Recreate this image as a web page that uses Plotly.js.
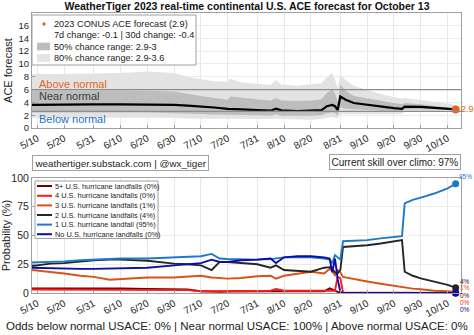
<!DOCTYPE html>
<html><head><meta charset="utf-8">
<script src="https://cdn.plot.ly/plotly-3.0.1.min.js"></script>
<style>html,body{margin:0;padding:0;background:#fff}#chart{width:474px;height:335px}</style>
</head><body><div id="chart"></div>
<script>
// ---------- DATA ----------
const dates = ['2023-05-08','2023-05-20','2023-05-31','2023-06-10','2023-06-20','2023-06-30','2023-07-05','2023-07-10','2023-07-15','2023-07-20','2023-07-21','2023-07-25','2023-07-31','2023-08-05','2023-08-07','2023-08-09','2023-08-15','2023-08-20','2023-08-24','2023-08-26','2023-08-28','2023-08-29','2023-08-30','2023-08-31','2023-09-02','2023-09-05','2023-09-10','2023-09-15','2023-09-20','2023-09-23','2023-09-24','2023-09-30','2023-10-05','2023-10-10','2023-10-13'];
const aceForecast = [3.6,3.7,3.7,3.7,3.7,3.6,3.5,3.4,3.2,3.0,3.0,2.9,2.8,2.7,3.0,2.75,2.65,2.7,2.8,3.4,3.6,3.4,2.8,4.9,4.4,3.9,3.6,3.4,3.1,3.0,3.35,3.3,3.15,3.0,2.9];
const range50Low  = [2.4,2.4,2.4,2.4,2.4,2.3,2.2,2.2,2.1,2.0,2.1,2.0,2.0,1.9,2.1,1.9,1.9,1.9,2.0,2.3,2.4,2.3,2.0,3.2,3.0,2.9,2.8,2.7,2.6,2.6,2.9,2.9,2.9,2.9,2.9];
const range50High = [5.9,5.9,5.9,5.8,5.8,5.7,5.3,5.0,4.7,4.4,4.9,4.7,4.5,4.3,4.7,4.3,4.2,4.3,4.5,5.5,6.0,5.5,4.0,6.8,5.8,5.0,4.6,4.2,3.9,3.7,3.9,3.7,3.5,3.2,3.0];
const range80Low  = [1.6,1.6,1.6,1.6,1.6,1.6,1.5,1.5,1.5,1.4,1.4,1.4,1.4,1.4,1.5,1.4,1.3,1.3,1.4,1.6,1.7,1.6,1.5,2.2,2.1,2.1,2.1,2.2,2.2,2.2,2.5,2.5,2.6,2.8,2.9];
const range80High = [8.4,8.4,8.5,8.6,8.8,8.6,8.0,7.6,7.3,7.2,7.7,7.1,6.9,6.7,7.5,6.8,6.6,6.8,7.0,8.0,8.6,7.6,6.2,8.3,7.5,6.6,5.9,5.3,4.8,4.6,4.7,4.4,4.1,3.8,3.6];
const normalThresholds = [2.6, 6];
const normalLabels = ['Above normal','Near normal','Below normal'];
const normalLabelY = [6.9, 5.0, 1.4];

const probDates = ['2023-05-08','2023-05-15','2023-05-20','2023-05-26','2023-05-31','2023-06-06','2023-06-10','2023-06-20','2023-06-30','2023-07-05','2023-07-10','2023-07-14','2023-07-17','2023-07-20','2023-07-25','2023-07-31','2023-08-05','2023-08-07','2023-08-10','2023-08-15','2023-08-20','2023-08-25','2023-08-27','2023-08-28','2023-08-29','2023-08-30','2023-08-31','2023-09-01','2023-09-05','2023-09-10','2023-09-15','2023-09-20','2023-09-23','2023-09-24','2023-09-27','2023-09-30','2023-10-05','2023-10-10','2023-10-13'];
const landfalls5plus = [4,4,4.5,4,4,4,4,3.5,3.5,3,1.5,1,1,1.2,1.5,1.5,1.5,1.5,1.5,1.2,1.2,1.5,4,3,1.5,1,0.5,0,0,0,0,0,0,0,0,0,0,0,0];
const landfalls4     = [3,3,3,3,3,3,3,3,3,2.5,1.5,1.5,1.5,1.5,1.5,1.5,2,3.5,2,2,2,2,2,2,2,14,13,0.5,0.4,0.3,0.2,0.2,0.1,0.1,0.1,0.1,0,0,0];
const landfalls3     = [20,18.5,17,15,14,11.5,12,13.5,13.5,14,15,13.5,13,12.5,13,14.5,15,12.5,15,17,18.5,17,21,19,15.5,20,18,14,12,10,8,6,5,4.5,3.8,3.2,2,1.5,1];
const landfalls2     = [23.5,25.5,26,27.5,28.5,29,29,28,25.5,25,24,20,27,27,26,25,22,24,20,19,18.5,22,22.5,21,18,17,20,40,40.5,41.5,43,45,46,18.5,15,12.7,10,7,4.6];
const landfalls1     = [26.5,27,27.5,28.5,29,30,30,30,31,31.5,32,34,30,29.5,29,29,29.5,30,31,31,31,30,29,26,33,31,29,45,45.5,46,47.5,48.5,49.5,78,81,83,86.5,91,95];
const landfalls0     = [22,21.5,21,21,21,21.5,21.5,22,24,25,26,29,27,27,28.5,29,30,26,31,32,32,31,30,18,30,12,1,0,0,0,0,0,0,0,0,0,0,0,0];
const seriesNames = ['5+ U.S. hurricane landfalls (0%)','4 U.S. hurricane landfalls (0%)','3 U.S. hurricane landfalls (1%)','2 U.S. hurricane landfalls (4%)','1 U.S. hurricane landfall (95%)','No U.S. hurricane landfalls (0%)'];
const seriesEndLabels = ['0%','0%','1%','4%','95%','0%'];
const topLegendLabels = ['2023 CONUS ACE forecast (2.9)','7d change: -0.1 | 30d change: -0.4','50% chance range: 2.9-3','80% chance range: 2.9-3.6'];
const tickDates = ['2023-05-10','2023-05-20','2023-05-31','2023-06-10','2023-06-20','2023-06-30','2023-07-10','2023-07-20','2023-07-31','2023-08-10','2023-08-20','2023-08-31','2023-09-10','2023-09-20','2023-09-30','2023-10-10'];
const tickLabels = ['5/10','5/20','5/31','6/10','6/20','6/30','7/10','7/20','7/31','8/10','8/20','8/31','9/10','9/20','9/30','10/10'];
const titleText = 'WeatherTiger 2023 real-time continental U.S. ACE forecast for October 13';
const creditText = 'weathertiger.substack.com | @wx_tiger';
const skillText = 'Current skill over climo: 97%';
const oddsText = 'Odds below normal USACE: 0% | Near normal USACE: 100% | Above normal USACE: 0%';

// ---------- STYLE ----------
const FONT = 'Liberation Sans, Arial, Helvetica, sans-serif';
const seriesData = [landfalls5plus, landfalls4, landfalls3, landfalls2, landfalls1, landfalls0];
const seriesColors = ['#6e0000','#ff1a1a','#d95319','#262626','#1f78c8','#0c0ca8'];
const ORANGE = '#e8641b', BLUE = '#1a73c4';
const LIGHT = '#e3e3e3', DARK = '#bdbdbd';
const W = 474, H = 335, L = 32, R = 461, T = 13, B = 293;
const px = p => (p - L) / (R - L);
const py = p => (B - p) / (B - T);
const xRange = ['2023-05-08', '2023-10-15'];
const last = a => a[a.length - 1];

const traces = [];
const rev = a => a.slice().reverse();
traces.push({x: dates.concat(rev(dates)), y: range80High.concat(rev(range80Low)), fill: 'toself', fillcolor: LIGHT, line: {width: 0}, mode: 'lines', xaxis: 'x', yaxis: 'y', hoverinfo: 'skip'});
traces.push({x: dates.concat(rev(dates)), y: range50High.concat(rev(range50Low)), fill: 'toself', fillcolor: DARK, line: {width: 0}, mode: 'lines', xaxis: 'x', yaxis: 'y', hoverinfo: 'skip'});
traces.push({x: dates, y: aceForecast, mode: 'lines', line: {color: '#000', width: 2.2}, xaxis: 'x', yaxis: 'y'});
traces.push({x: [last(dates)], y: [last(aceForecast)], mode: 'markers', marker: {color: ORANGE, size: 8}, xaxis: 'x', yaxis: 'y'});

seriesData.forEach((s, i) => {
  traces.push({x: probDates, y: s, mode: 'lines', line: {color: seriesColors[i], width: 1.9}, xaxis: 'x2', yaxis: 'y2', name: seriesNames[i]});
});
seriesData.forEach((s, i) => {
  traces.push({x: [last(probDates)], y: [last(s)], mode: 'markers', marker: {color: seriesColors[i], size: 7}, xaxis: 'x2', yaxis: 'y2', cliponaxis: false});
});

const shapes = [];
const annotations = [];
normalThresholds.forEach(v => shapes.push({type: 'line', xref: 'paper', x0: 0, x1: 1, yref: 'y', y0: v, y1: v, line: {color: '#8c8c8c', width: 1.3}, layer: 'above'}));
const normalColors = [ORANGE, '#404040', BLUE];
normalLabels.forEach((t, i) => annotations.push({text: t, xref: 'paper', x: px(37), xanchor: 'left', yref: 'y', y: normalLabelY[i], yanchor: 'middle', showarrow: false, font: {family: FONT, size: 11, color: normalColors[i]}}));
annotations.push({text: '2.9', xref: 'x', x: last(dates), yref: 'y', y: last(aceForecast), xanchor: 'left', xshift: 3.5, yanchor: 'middle', showarrow: false, font: {family: FONT, size: 9, color: ORANGE}});
// end labels: small vertical offsets so the stacked labels near 0% stay readable
const endShift = [-2, -9, 4.3, 6.7, 7, -16];
seriesEndLabels.forEach((t, i) => annotations.push({text: t, xref: 'x2', x: last(probDates), yref: 'y2', y: last(seriesData[i]), xanchor: 'left', xshift: i === 4 ? 1 : 2.5, yshift: endShift[i], yanchor: 'middle', showarrow: false, font: {family: FONT, size: 6.5, color: seriesColors[i]}}));

// top legend (manual)
shapes.push({type: 'rect', xref: 'paper', yref: 'paper', x0: px(32), x1: px(196), y0: py(65), y1: py(15), fillcolor: '#fff', line: {color: '#a0a0a0', width: 1}, layer: 'above'});
const topRows = [24, 35, 46.5, 58];
shapes.push({type: 'circle', xref: 'paper', yref: 'paper', x0: px(42.3), x1: px(45.7), y0: py(topRows[0] + 1.7), y1: py(topRows[0] - 1.7), fillcolor: ORANGE, line: {width: 0}, layer: 'above'});
shapes.push({type: 'rect', xref: 'paper', yref: 'paper', x0: px(37), x1: px(50), y0: py(topRows[2] + 3.8), y1: py(topRows[2] - 3.8), fillcolor: DARK, line: {width: 0}, layer: 'above'});
shapes.push({type: 'rect', xref: 'paper', yref: 'paper', x0: px(37), x1: px(50), y0: py(topRows[3] + 3.8), y1: py(topRows[3] - 3.8), fillcolor: LIGHT, line: {width: 0}, layer: 'above'});
topLegendLabels.forEach((t, i) => annotations.push({text: t, xref: 'paper', x: px(52), xanchor: 'left', yref: 'paper', y: py(topRows[i]), yanchor: 'middle', showarrow: false, font: {family: FONT, size: 9.2, color: '#222'}}));

// bottom legend (manual)
shapes.push({type: 'rect', xref: 'paper', yref: 'paper', x0: px(35), x1: px(158), y0: py(238.5), y1: py(181), fillcolor: '#fff', line: {color: '#a0a0a0', width: 1}, layer: 'above'});
const botRows = [186, 195.8, 205.4, 215, 224.6, 234.2];
seriesNames.forEach((t, i) => {
  shapes.push({type: 'line', xref: 'paper', yref: 'paper', x0: px(37), x1: px(52), y0: py(botRows[i]), y1: py(botRows[i]), line: {color: seriesColors[i], width: 2}, layer: 'above'});
  annotations.push({text: t, xref: 'paper', x: px(52.5), xanchor: 'left', yref: 'paper', y: py(botRows[i]), yanchor: 'middle', showarrow: false, font: {family: FONT, size: 7.4, color: '#222'}});
});

// boxed texts
annotations.push({text: creditText, xref: 'paper', x: px(32), xanchor: 'left', yref: 'paper', y: py(162.5), yanchor: 'middle', showarrow: false, bordercolor: '#a0a0a0', borderwidth: 1, borderpad: 1.5, bgcolor: '#fff', font: {family: FONT, size: 9.8, color: '#222'}});
annotations.push({text: skillText, xref: 'paper', x: 1, xanchor: 'right', yref: 'paper', y: py(161.5), yanchor: 'middle', showarrow: false, bordercolor: '#a0a0a0', borderwidth: 1, borderpad: 1.5, bgcolor: '#fff', font: {family: FONT, size: 10, color: '#222'}});
annotations.push({text: oddsText, xref: 'paper', x: px(237), xanchor: 'center', yref: 'paper', y: py(326), yanchor: 'middle', showarrow: false, font: {family: FONT, size: 11.5, color: '#222'}});

const xAxisBase = {type: 'date', range: xRange, tickmode: 'array', tickvals: tickDates, ticktext: tickLabels, tickangle: -28, tickfont: {family: FONT, size: 10, color: '#262626'}, showgrid: true, gridcolor: '#e8e8e8', showline: true, mirror: true, linecolor: '#a0a0a0', ticks: 'inside', ticklen: 3, tickcolor: '#a0a0a0', zeroline: false};
const layout = {
  width: W, height: H,
  margin: {l: L, r: W - R, t: T, b: H - B},
  paper_bgcolor: '#fff', plot_bgcolor: '#fff',
  showlegend: false,
  font: {family: FONT, color: '#222'},
  title: {text: '<b>' + titleText + '</b>', x: px(247), xref: 'paper', xanchor: 'center', y: 1 - 6.5 / H, yref: 'container', yanchor: 'middle', font: {family: FONT, size: 10.5, color: '#111'}},
  xaxis: Object.assign({}, xAxisBase, {anchor: 'y'}),
  xaxis2: Object.assign({}, xAxisBase, {anchor: 'y2'}),
  yaxis: {domain: [py(128), 1], range: [0, 17.95], dtick: 2, tick0: 0, tickfont: {family: FONT, size: 9.5, color: '#262626'}, showgrid: true, gridcolor: '#ececec', showline: true, mirror: true, linecolor: '#a0a0a0', ticks: 'inside', ticklen: 3, tickcolor: '#a0a0a0', zeroline: false, title: {text: 'ACE forecast', font: {family: FONT, size: 11, color: '#222'}, standoff: 3}},
  yaxis2: {domain: [0, py(178)], range: [0, 100], dtick: 25, tick0: 0, tickfont: {family: FONT, size: 10.5, color: '#262626'}, showgrid: true, gridcolor: '#ececec', showline: true, mirror: true, linecolor: '#a0a0a0', ticks: 'inside', ticklen: 3, tickcolor: '#a0a0a0', zeroline: false, title: {text: 'Probability (%)', font: {family: FONT, size: 11, color: '#222'}, standoff: 2}},
  shapes: shapes,
  annotations: annotations
};
Plotly.newPlot('chart', traces, layout, {displayModeBar: false, staticPlot: true});
</script>
</body></html>
